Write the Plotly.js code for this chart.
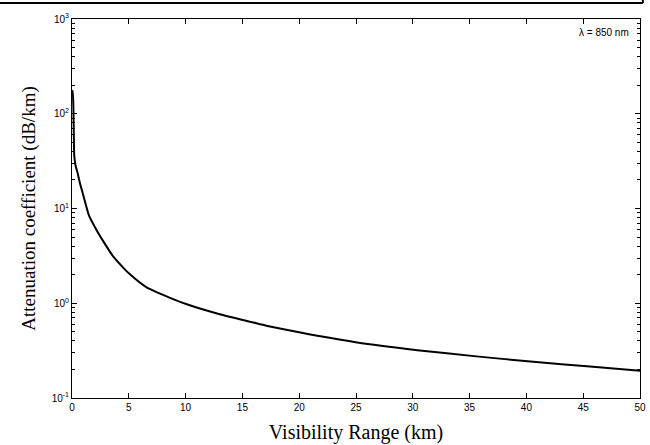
<!DOCTYPE html>
<html>
<head>
<meta charset="utf-8">
<script src="https://cdn.plot.ly/plotly-3.0.1.min.js"></script>
<style>html,body{margin:0;padding:0;background:#fff;}#chart{width:650px;height:445px;}</style>
</head>
<body>
<div id="chart"></div>
<script>
// Visibility range (km)
var visibility = [0.03, 0.07, 0.12, 0.16, 0.2, 0.3, 0.5, 0.7, 0.94, 1.5, 2.17, 2.76, 3.64, 4.5, 5.1, 6.57, 8.63, 10.1, 13.0, 15.96, 17.1, 20.1, 25.1, 30.4, 35.6, 40.6, 45.6, 50];
// Attenuation coefficient (dB/km)
var attenuation = [165, 175, 120, 60, 36, 29, 23.5, 18.5, 14.6, 8.4, 5.9, 4.5, 3.1, 2.38, 2.02, 1.47, 1.14, 0.975, 0.766, 0.627, 0.58, 0.49, 0.385, 0.32, 0.275, 0.241, 0.215, 0.194];
var xTicks = [0, 5, 10, 15, 20, 25, 30, 35, 40, 45, 50];
var yMajorTicks = [0.1, 1, 10, 100, 1000];
var yMajorLabels = ['10<sup>-1</sup>', '10<sup>0</sup>', '10<sup>1</sup>', '10<sup>2</sup>', '10<sup>3</sup>'];
var yMinorTicks = [0.2, 0.3, 0.4, 0.5, 0.6, 0.7, 0.8, 0.9, 2, 3, 4, 5, 6, 7, 8, 9, 20, 30, 40, 50, 60, 70, 80, 90, 200, 300, 400, 500, 600, 700, 800, 900];
var labelText = "\u03bb = 850 nm";

var trace = {
  x: visibility, y: attenuation, type: 'scatter', mode: 'lines',
  line: {color: '#000', width: 2, shape: 'spline', smoothing: 0.5},
  hoverinfo: 'skip'
};
var minorHolder = {
  x: [null], y: [null], type: 'scatter', mode: 'lines', yaxis: 'y2', hoverinfo: 'skip'
};

var layout = {
  width: 650, height: 445,
  margin: {l: 72, r: 10, t: 19, b: 47},
  paper_bgcolor: '#fff', plot_bgcolor: '#fff',
  showlegend: false,
  font: {family: 'Liberation Sans, Arial, sans-serif', color: '#000'},
  xaxis: {
    range: [0, 50], tickvals: xTicks, ticktext: xTicks.map(String),
    ticks: 'inside', ticklen: 5, tickwidth: 1, tickcolor: '#000',
    showline: true, linecolor: '#000', linewidth: 1, mirror: 'ticks',
    showgrid: false, zeroline: false,
    tickfont: {size: 10, family: 'Liberation Sans, Arial, sans-serif'},
    title: {text: 'Visibility Range (km)', font: {size: 20, family: 'Liberation Serif, Times New Roman, serif'}, standoff: 12}
  },
  yaxis: {
    type: 'log', range: [-1, 3], tickvals: yMajorTicks, ticktext: yMajorLabels,
    ticks: 'inside', ticklen: 5, tickwidth: 1, tickcolor: '#000',
    showline: true, linecolor: '#000', linewidth: 1, mirror: 'ticks',
    showgrid: false, zeroline: false,
    tickfont: {size: 10, family: 'Liberation Sans, Arial, sans-serif'},
    title: {text: 'Attenuation coefficient (dB/km)', font: {size: 19, family: 'Liberation Serif, Times New Roman, serif'}, standoff: 10}
  },
  yaxis2: {
    type: 'log', range: [-1, 3], overlaying: 'y', side: 'left', tickvals: yMinorTicks,
    showticklabels: false, ticks: 'inside', ticklen: 3, tickwidth: 1, tickcolor: '#000',
    showline: false, mirror: 'ticks', showgrid: false, zeroline: false
  },
  annotations: [{
    xref: 'paper', yref: 'paper', x: 0.985, y: 0.985, xanchor: 'right', yanchor: 'top',
    text: labelText, showarrow: false, font: {size: 10, family: 'Liberation Sans, Arial, sans-serif', color: '#000'}
  }],
  shapes: [
    {type: 'line', xref: 'paper', yref: 'paper', x0: -0.127, x1: 1.005, y0: 1.042, y1: 1.042, line: {color: '#000', width: 2}},
    {type: 'line', xref: 'paper', yref: 'paper', x0: 1.005, x1: 1.005, y0: 1.042, y1: 1.06, line: {color: '#000', width: 2}}
  ]
};

Plotly.newPlot('chart', [trace, minorHolder], layout, {displayModeBar: false, staticPlot: true});
</script>
</body>
</html>
